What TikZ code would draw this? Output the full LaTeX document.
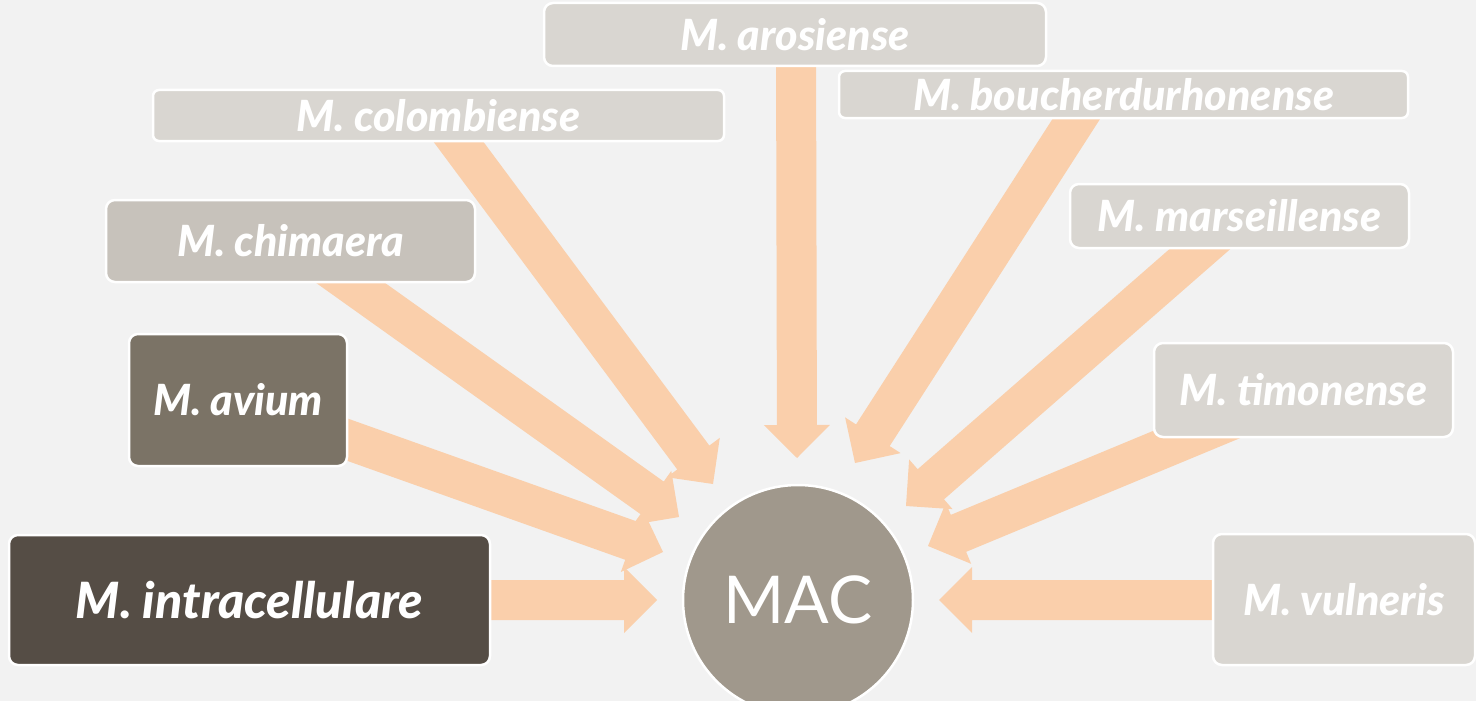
\documentclass[tikz,border=0pt]{standalone}
\usepackage{fontspec}
\setmainfont{Lato}[BoldItalicFont={* Black Italic}]
\usetikzlibrary{calc}
\definecolor{bgc}{HTML}{F2F2F2}
\definecolor{arrc}{HTML}{FACFAB}
\definecolor{darkc}{HTML}{554D45}
\definecolor{midc}{HTML}{7B7366}
\definecolor{chimc}{HTML}{C7C2BB}
\definecolor{lightc}{HTML}{D9D6D1}
\definecolor{macc}{HTML}{A0988C}
\newcommand\blockarrow[2]{%
  \coordinate (bk) at ($(#2)!33pt!(#1)$);
  \fill[arrc] ($(#1)!20pt!-90:(#2)$) -- ($(bk)!20pt!90:(#1)$) -- ($(bk)!33pt!90:(#1)$) -- (#2)
     -- ($(bk)!33pt!-90:(#1)$) -- ($(bk)!20pt!-90:(#1)$) -- ($(#1)!20pt!90:(#2)$) -- cycle;
}
\begin{document}
\begin{tikzpicture}[x=1pt,y=-1pt,
  box/.style={rectangle, rounded corners=9pt, draw=white, line width=2.5pt, text=white,
    font=\bfseries\itshape\fontsize{43}{43}\selectfont, inner sep=0pt, anchor=center},
  thinbox/.style={box, rounded corners=6pt}]
\fill[bgc] (0,0) rectangle (1476,701);
\useasboundingbox (0,0) rectangle (1476,701);
\clip (0,0) rectangle (1476,701);

% arrow ends
\coordinate (tAro) at (796,40);    \coordinate (pAro) at (797,458);
\coordinate (tCol) at (440,117);   \coordinate (pCol) at (713,484);
\coordinate (tChi) at (317,259);   \coordinate (pChi) at (679,517);
\coordinate (tAvi) at (309,426);   \coordinate (pAvi) at (663,552);
\coordinate (tInt) at (470,600);   \coordinate (pInt) at (657,600);
\coordinate (tBou) at (1093,93);   \coordinate (pBou) at (855,463);
\coordinate (tMar) at (1224,228);  \coordinate (pMar) at (906,506);
\coordinate (tTim) at (1246,414);  \coordinate (pTim) at (928,546);
\coordinate (tVul) at (1240,600);  \coordinate (pVul) at (939,600);

\blockarrow{tAro}{pAro}
\blockarrow{tCol}{pCol}
\blockarrow{tChi}{pChi}
\blockarrow{tAvi}{pAvi}
\blockarrow{tInt}{pInt}
\blockarrow{tBou}{pBou}
\blockarrow{tMar}{pMar}
\blockarrow{tTim}{pTim}
\blockarrow{tVul}{pVul}

% boxes
\node[box, fill=lightc, minimum width=502pt, minimum height=63pt] (aro) at (795,34.5) {M. arosiense};
\node[thinbox, fill=lightc, minimum width=571pt, minimum height=51pt] (col) at (438.5,115.5) {M. colombiense};
\node[thinbox, fill=lightc, minimum width=569pt, minimum height=47pt] (bou) at (1123.5,94.5) {M. boucherdurhonense};
\node[box, fill=chimc, minimum width=369pt, minimum height=82pt] (chi) at (290.5,241) {M. chimaera};
\node[box, fill=lightc, minimum width=339pt, minimum height=64pt] (mar) at (1239.5,216) {M. marseillense};
\node[box, fill=midc, minimum width=218pt, minimum height=132pt] (avi) at (238,400) {M. avium};
\node[box, fill=lightc, minimum width=299pt, minimum height=94pt] (tim) at (1303.5,390) {M. timonense};
\node[box, fill=darkc, minimum width=481pt, minimum height=130pt,
  font=\bfseries\itshape\fontsize{50}{50}\selectfont] (int) at (249.5,600) {M. intracellulare};
\node[box, fill=lightc, minimum width=262pt, minimum height=131pt] (vul) at (1344,599.5) {M. vulneris};

\node[circle, fill=macc, draw=white, line width=2.5pt, minimum size=230pt, inner sep=0pt,
  text=white, font=\fontsize{66}{66}\selectfont] (mac) at (798,600) {MAC};
\end{tikzpicture}
\end{document}
